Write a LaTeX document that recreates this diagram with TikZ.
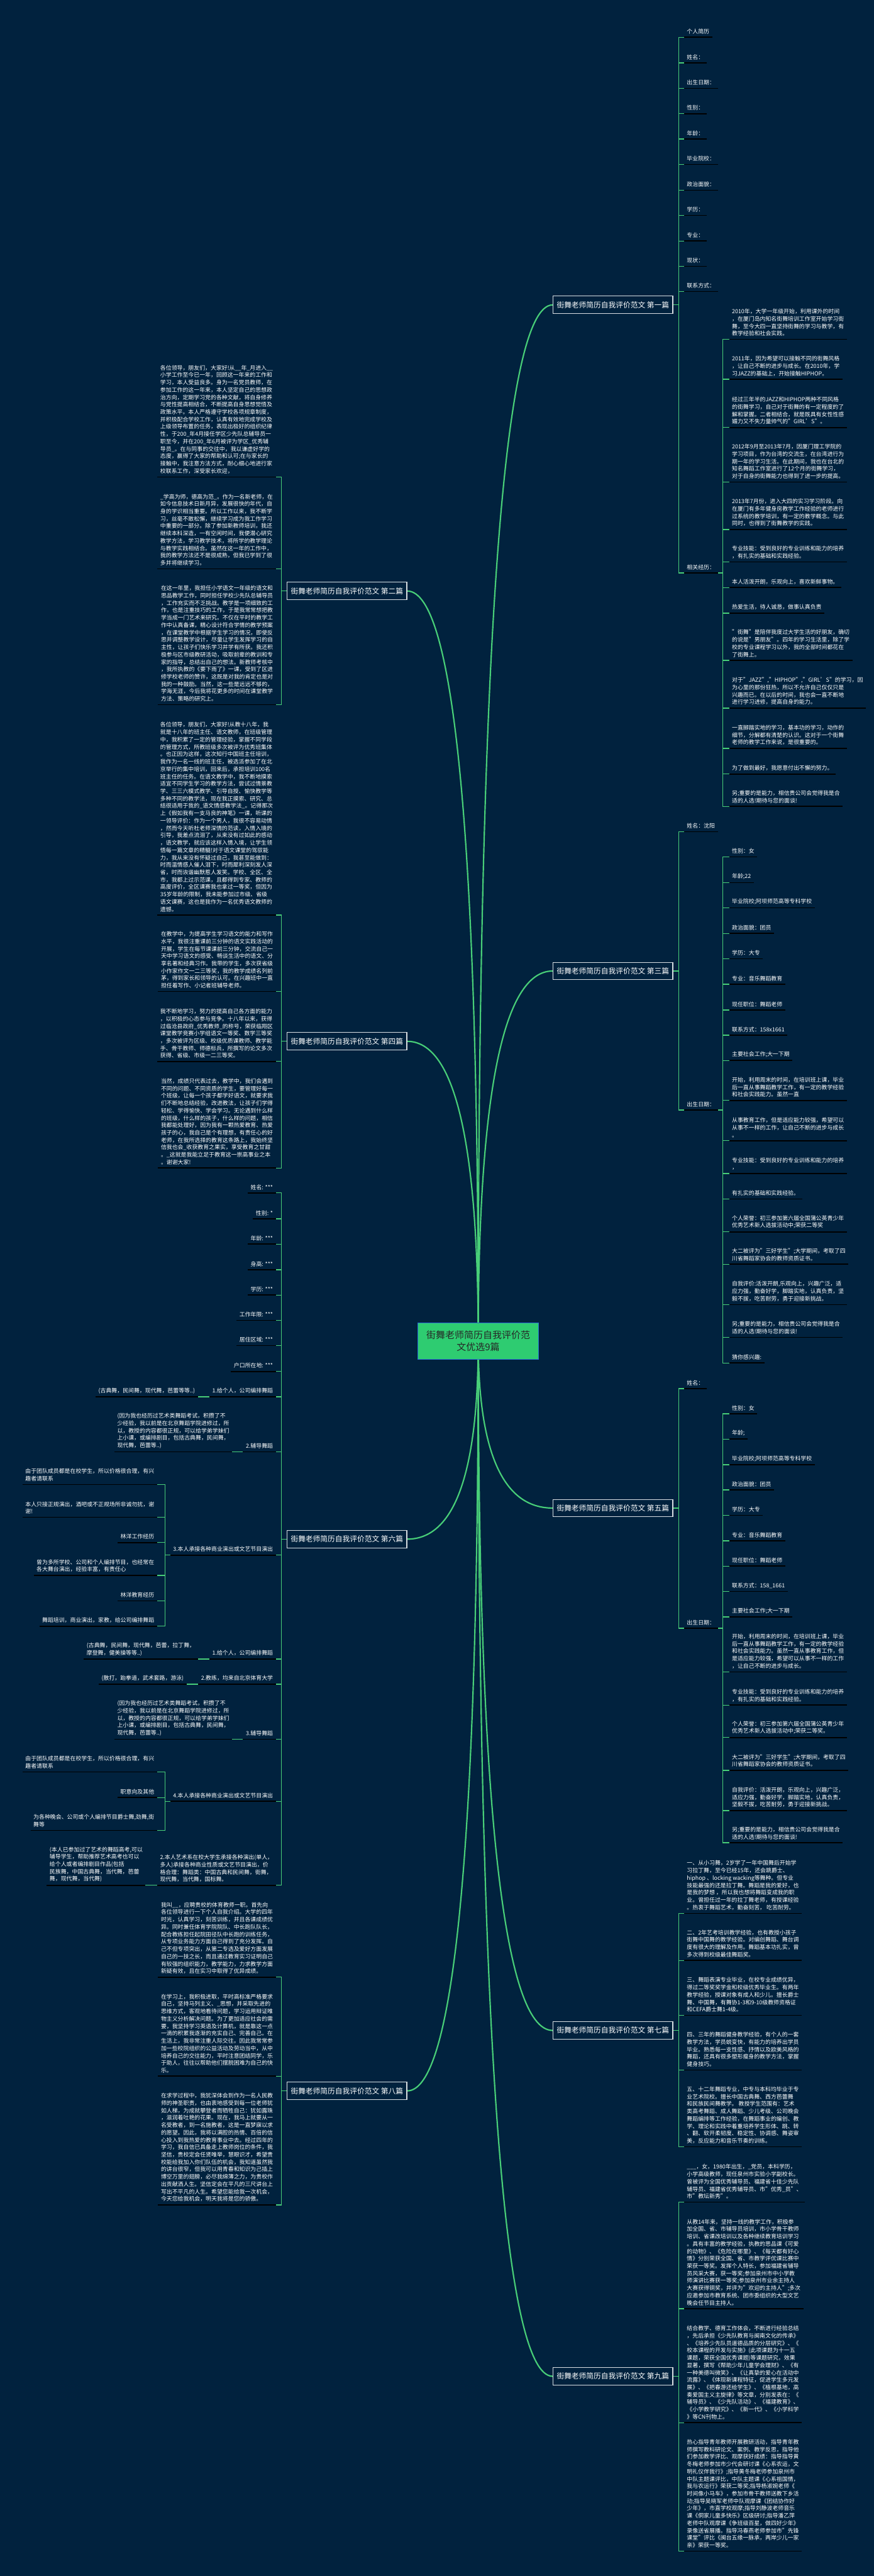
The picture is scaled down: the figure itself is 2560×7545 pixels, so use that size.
\documentclass[tikz,border=0pt]{standalone}
\usepackage{fontspec}
\setmainfont{Noto Sans CJK SC}
\usetikzlibrary{calc}

\definecolor{bgnavy}{RGB}{1,34,62}
\definecolor{linkgreen}{RGB}{72,206,120}
\definecolor{hubgreen}{RGB}{46,204,113}
\definecolor{hubline}{RGB}{40,110,210}

\pgfdeclarelayer{bg}
\pgfdeclarelayer{links}
\pgfsetlayers{bg,links,main}

\newcommand\itemsize{\fontsize{8.2pt}{10.8pt}\selectfont}
\newcommand\branchsize{\fontsize{10.8pt}{13pt}\selectfont}
\newcommand\hubsize{\fontsize{13.8pt}{18pt}\selectfont}

\tikzset{
  uline/.style={draw=black, line width=1.5pt},
  ritem/.style={anchor=south west, align=left, text=white, font=\itemsize,
    inner xsep=4pt, inner ysep=4.5pt,
    append after command={(\tikzlastnode.south west) edge[uline] (\tikzlastnode.south east)}},
  litem/.style={ritem, anchor=south east},
  branch/.style={draw=white!85!bgnavy, line width=1pt, fill=bgnavy, text=white,
    font=\branchsize, inner xsep=5.5pt, inner ysep=0pt, minimum height=25.5pt},
  hub/.style={draw=hubline, line width=1pt, fill=hubgreen, text=black!85,
    font=\hubsize, align=center, inner xsep=12.5pt, minimum height=54pt},
  link/.style={draw=linkgreen, line width=1.2pt},
  curve/.style={draw=linkgreen, line width=2pt}
}

\begin{document}
\begin{tikzpicture}[x=0.5pt, y=-0.5pt]
\useasboundingbox (0,0) rectangle (2560,7545);
\begin{pgfonlayer}{bg}
  \fill[bgnavy] (0,0) rectangle (2560,7545);
\end{pgfonlayer}

\node[hub] (hub) at (1401,3928) {街舞老师简历自我评价范\\文优选9篇};

% 第一篇
\node[branch, anchor=east] (p1) at (1972,893) {街舞老师简历自我评价范文 第一篇};
\node[ritem] (p1a) at (2004,109) {个人简历};
\node[ritem] (p1b) at (2004,184) {姓名：};
\node[ritem] (p1c) at (2004,259) {出生日期：};
\node[ritem] (p1d) at (2004,333) {性别：};
\node[ritem] (p1e) at (2004,407) {年龄：};
\node[ritem] (p1f) at (2004,482) {毕业院校：};
\node[ritem] (p1g) at (2004,557) {政治面貌：};
\node[ritem] (p1h) at (2004,631) {学历：};
\node[ritem] (p1i) at (2004,706) {专业：};
\node[ritem] (p1j) at (2004,780) {现状：};
\node[ritem] (p1k) at (2004,854) {联系方式：};
\node[ritem] (p1l) at (2004,1678) {相关经历：};
\node[ritem] (p1l1) at (2136,994) {2010年，大学一年级开始，利用课外的时间\\，在厦门岛内知名街舞培训工作室开始学习街\\舞，至今大四一直坚持街舞的学习与教学，有\\教学经验和社会实践。};
\node[ritem] (p1l2) at (2136,1111) {2011年，因为希望可以接触不同的街舞风格\\，让自己不断的进步与成长。在2010年，学\\习JAZZ的基础上，开始接触HIPHOP。};
\node[ritem] (p1l3) at (2136,1252) {经过三年半的JAZZ和HIPHOP两种不同风格\\的街舞学习，自己对于街舞的有一定程度的了\\解和掌握。二者相结合，就是既具有女性性感\\媚力又不失力量帅气的"GIRL'S"。};
\node[ritem] (p1l4) at (2136,1412) {2012年9月至2013年7月，因厦门理工学院的\\学习项目，作为台湾的交流生，在台湾进行为\\期一年的学习生活。在此期间，我也在台北的\\知名舞蹈工作室进行了12个月的街舞学习，\\对于自身的街舞能力也得到了进一步的提高。};
\node[ritem] (p1l5) at (2136,1551) {2013年7月份，进入大四的实习学习阶段。向\\在厦门有多年健身房教学工作经验的老师进行\\过系统的教学培训，有一定的教学概念。与此\\同时，也得到了街舞教学的实践。};
\node[ritem] (p1l6) at (2136,1646) {专业技能：受到良好的专业训练和能力的培养\\，有扎实的基础和实践经验。};
\node[ritem] (p1l7) at (2136,1721) {本人活泼开朗，乐观向上，喜欢新鲜事物。};
\node[ritem] (p1l8) at (2136,1796) {热爱生活，待人诚恳，做事认真负责};
\node[ritem] (p1l9) at (2136,1934) {"街舞"是陪伴我度过大学生活的好朋友，确切\\的说是"男朋友"。四年的学习生活里，除了学\\校的专业课程学习以外，我的全部时间都花在\\了街舞上。};
\node[ritem] (p1l10) at (2136,2074) {对于"JAZZ","HIPHOP","GIRL'S"的学习，因\\为心里的那份狂热，所以不允许自己仅仅只是\\兴趣而已。在以后的时间，我也会一直不断地\\进行学习进修，提高自身的能力。};
\node[ritem] (p1l11) at (2136,2192) {一直脚踏实地的学习，基本功的学习，动作的\\细节，分解都有清楚的认识。这对于一个街舞\\老师的教学工作来说，是很重要的。};
\node[ritem] (p1l12) at (2136,2267) {为了做到最好，我愿意付出不懈的努力。};
\node[ritem] (p1l13) at (2136,2362) {另;重要的是能力，相信贵公司会觉得我是合\\适的人选!期待与您的面谈!};

% 第二篇
\node[branch, anchor=west] (p2) at (840,1731) {街舞老师简历自我评价范文 第二篇};
\node[litem] (p2a) at (808,1397) {各位领导，朋友们，大家好!从\_\_年\_月进入\_\_\\小学工作至今已一年，回顾这一年来的工作和\\学习，本人受益良多。身为一名党员教师，在\\参加工作的这一年来，本人坚定自己的思想政\\治方向，定期学习党的各种文献，将自身修养\\与党性提高相结合，不断提高自身思想觉悟及\\政策水平。本人严格遵守学校各项规章制度，\\并积极配合学校工作，认真有效地完成学校及\\上级领导布置的任务，表现出极好的组织纪律\\性，于200\_年4月接任学区少先队总辅导员一\\职至今，并在200\_年6月被评为学区\_优秀辅\\导员\_。在与同事的交往中，我以谦虚好学的\\态度，赢得了大家的帮助和认可;在与家长的\\接触中，我注意方法方式，耐心细心地进行家\\校联系工作，深受家长欢迎，};
\node[litem] (p2b) at (808,1666) {\_学高为师，德高为范\_。作为一名新老师，在\\如今信息技术日新月异，发展很快的年代，自\\身的学识相当重要。所以工作以来，我不断学\\习，丝毫不敢松懈，继续学习成为我工作学习\\中重要的一部分。除了参加新教师培训，我还\\继续本科深造，一有空闲时间，我便潜心研究\\教学方法，学习教学技术，将所学的教学理论\\与教学实践相结合。虽然在这一年的工作中，\\我的教学方法还不是很成熟，但我已学到了很\\多并将继续学习。};
\node[litem] (p2c) at (808,2064) {在这一年里，我担任小学语文一年级的语文和\\思品教学工作，同时担任学校少先队总辅导员\\，工作充实而不乏挑战。教学是一项细致的工\\作，也是注重技巧的工作，于是我常常想把教\\学当成一门艺术来研究。不仅在平时的教学工\\作中认真备课，精心设计符合学情的教学预案\\，在课堂教学中根据学生学习的情况，即使反\\思并调整教学设计，尽量让学生发挥学习的自\\主性，让孩子们快乐学习并学有所获。我还积\\极参与区市级教研活动，吸取前辈的教训和专\\家的指导，总结出自己的想法。新教师考核中\\，我所执教的《要下雨了》一课，受到了区进\\修学校老师的赞许，这既是对我的肯定也是对\\我的一种鼓励。当然，这一些是远远不够的，\\学海无涯，今后我将花更多的时间在课堂教学\\方法、策略的研究上。};

% 第三篇
\node[branch, anchor=east] (p3) at (1972,2844) {街舞老师简历自我评价范文 第三篇};
\node[ritem] (p3a) at (2004,2436) {姓名：沈阳};
\node[ritem] (p3b) at (2004,3251) {出生日期：};
\node[ritem] (p3b1) at (2136,2510) {性别：女};
\node[ritem] (p3b2) at (2136,2585) {年龄;22};
\node[ritem] (p3b3) at (2136,2659) {毕业院校;阿坝师范高等专科学校};
\node[ritem] (p3b4) at (2136,2734) {政治面貌：团员};
\node[ritem] (p3b5) at (2136,2808) {学历：大专};
\node[ritem] (p3b6) at (2136,2883) {专业：音乐舞蹈教育};
\node[ritem] (p3b7) at (2136,2958) {现任职位：舞蹈老师};
\node[ritem] (p3b8) at (2136,3032) {联系方式：158x1661};
\node[ritem] (p3b9) at (2136,3106) {主要社会工作;大一下期};
\node[ritem] (p3b10) at (2136,3223) {开始，利用周末的时间，在培训班上课，毕业\\后一直从事舞蹈教学工作，有一定的教学经验\\和社会实践能力。虽然一直};
\node[ritem] (p3b11) at (2136,3341) {从事教育工作，但是适应能力较强，希望可以\\从事不一样的工作，让自己不断的进步与成长\\。};
\node[ritem] (p3b12) at (2136,3437) {专业技能：受到良好的专业训练和能力的培养\\，};
\node[ritem] (p3b13) at (2136,3512) {有扎实的基础和实践经验。};
\node[ritem] (p3b14) at (2136,3608) {个人荣誉：初三参加第六届全国蒲公英青少年\\优秀艺术新人选拔活动中;荣获二等奖};
\node[ritem] (p3b15) at (2136,3703) {大二被评为"三好学生";大学期间，考取了四\\川省舞蹈家协会的教师资质证书。};
\node[ritem] (p3b16) at (2136,3821) {自我评价:活泼开朗,乐观向上，兴趣广泛，适\\应力强，勤奋好学，脚踏实地，认真负责，坚\\毅不拔，吃苦耐劳，勇于迎接新挑战。};
\node[ritem] (p3b17) at (2136,3917) {另;重要的是能力，相信贵公司会觉得我是合\\适的人选!期待与您的面谈!};
\node[ritem] (p3b18) at (2136,3992) {猜你感兴趣:};

% 第四篇
\node[branch, anchor=west] (p4) at (840,3050) {街舞老师简历自我评价范文 第四篇};
\node[litem] (p4a) at (808,2680) {各位领导，朋友们，大家好!从教十八年，我\\就是十八年的班主任、语文教师，在班级管理\\中，我积累了一定的管理经验，掌握不同学段\\的管理方式，所教班级多次被评为优秀班集体\\。也正因为这样，这次知行中国班主任培训，\\我作为一名一线的班主任，被选派参加了在北\\京举行的集中培训，回来后，承担培训100名\\班主任的任务。在语文教学中，我不断地摸索\\适宜不同学生学习的教学方法，尝试过情景教\\学、三三六模式教学、引导自授、愉快教学等\\多种不同的教学法，现在我正摸索、研究、总\\结很适用于我的\_语文情感教学法\_。记得那次\\上《假如我有一支马良的神笔》一课，听课的\\一领导评价：作为一个男人，我很不容易动情\\，然而今天听杜老师深情的范读，入情入境的\\引导，我差点流泪了，从来没有过如此的感动\\，语文教学，就应该这样入情入境，让学生领\\悟每一篇文章的精髓!对于语文课堂的驾驭能\\力，我从来没有怀疑过自己，我甚至能做到：\\时而温情感人催人泪下，时而犀利深刻发人深\\省，时而诙谐幽默惹人发笑。学校、全区、全\\市，我都上过示范课，且都得到专家、教师的\\高度评价，全区课赛我也拿过一等奖，但因为\\35岁年龄的限制，我未能参加过市级、省级\\语文课赛，这也是我作为一名优秀语文教师的\\遗憾。};
\node[litem] (p4b) at (808,2904) {在教学中，为提高学生学习语文的能力和写作\\水平，我很注重课前三分钟的语文实践活动的\\开展，学生在每节课课前三分钟，交流自己一\\天中学习语文的感受、畅谈生活中的语文、分\\享名著和经典习作。我带的学生，多次获省级\\小作家作文一二三等奖，我的教学成绩名列前\\茅，得到家长和领导的认可。在兴趣班中一直\\担任着写作、小记者班辅导老师。};
\node[litem] (p4c) at (808,3109) {我不断地学习，努力的提高自己各方面的能力\\，以积极的心态参与竞争。十八年以来，获得\\过临沧县政府\_优秀教师\_的称号，荣获临翔区\\课堂教学竞赛小学组语文一等奖、数学三等奖\\，多次被评为区级、校级优质课教师、教学能\\手、骨干教师、师德标兵，所撰写的论文多次\\获得、省级、市级一二三等奖。};
\node[litem] (p4d) at (808,3421) {当然，成绩只代表过去，教学中，我们会遇到\\不同的问题、不同资质的学生，要管理好每一\\个班级，让每一个孩子都学好语文，就要求我\\们不断地总结经验，改进教法，让孩子们学得\\轻松、学得愉快、学会学习。无论遇到什么样\\的班级，什么样的孩子，什么样的问题，相信\\我都能处理好，因为我有一颗热爱教育、热爱\\孩子的心，我自己是个有理想，有责任心的好\\老师，在我所选择的教育这条路上，我始终坚\\信我也会\_收获教育之果实，享受教育之甘甜\\。\_这就是我能立足于教育这一崇高事业之本\\。谢谢大家!};

% 第五篇
\node[branch, anchor=east] (p5) at (1972,4417) {街舞老师简历自我评价范文 第五篇};
\node[ritem] (p5a) at (2004,4067) {姓名：};
\node[ritem] (p5b) at (2004,4769) {出生日期：};
\node[ritem] (p5b1) at (2136,4141) {性别：女};
\node[ritem] (p5b2) at (2136,4215) {年龄;};
\node[ritem] (p5b3) at (2136,4290) {毕业院校;阿坝师范高等专科学校};
\node[ritem] (p5b4) at (2136,4364) {政治面貌：团员};
\node[ritem] (p5b5) at (2136,4438) {学历：大专};
\node[ritem] (p5b6) at (2136,4513) {专业：音乐舞蹈教育};
\node[ritem] (p5b7) at (2136,4587) {现任职位：舞蹈老师};
\node[ritem] (p5b8) at (2136,4661) {联系方式：158\_1661};
\node[ritem] (p5b9) at (2136,4736) {主要社会工作;大一下期};
\node[ritem] (p5b10) at (2136,4897) {开始，利用周末的时间，在培训班上课，毕业\\后一直从事舞蹈教学工作，有一定的教学经验\\和社会实践能力。虽然一直从事教育工作，但\\是适应能力较强，希望可以从事不一样的工作\\，让自己不断的进步与成长。};
\node[ritem] (p5b11) at (2136,4994) {专业技能：受到良好的专业训练和能力的培养\\，有扎实的基础和实践经验。};
\node[ritem] (p5b12) at (2136,5089) {个人荣誉：初三参加第六届全国蒲公英青少年\\优秀艺术新人选拔活动中;荣获二等奖。};
\node[ritem] (p5b13) at (2136,5185) {大二被评为"三好学生";大学期间，考取了四\\川省舞蹈家协会的教师资质证书。};
\node[ritem] (p5b14) at (2136,5303) {自我评价：活泼开朗，乐观向上，兴趣广泛，\\适应力强，勤奋好学，脚踏实地，认真负责，\\坚毅不拔，吃苦耐劳，勇于迎接新挑战。};
\node[ritem] (p5b15) at (2136,5397) {另;重要的是能力，相信贵公司会觉得我是合\\适的人选!期待与您的面谈!};

% 第六篇
\node[branch, anchor=west] (p6) at (840,4508) {街舞老师简历自我评价范文 第六篇};
\node[litem] (p6a) at (808,3494) {姓名: ***};
\node[litem] (p6b) at (808,3570) {性别: *};
\node[litem] (p6c) at (808,3644) {年龄: ***};
\node[litem] (p6d) at (808,3719) {身高: ***};
\node[litem] (p6e) at (808,3793) {学历: ***};
\node[litem] (p6f) at (808,3867) {工作年限: ***};
\node[litem] (p6g) at (808,3941) {居住区域: ***};
\node[litem] (p6h) at (808,4017) {户口所在地: ***};
\node[litem] (p6i) at (808,4091) {1.给个人，公司编排舞蹈};
\node[litem] (p6i1) at ([xshift=-17pt]p6i.south west) {(古典舞，民间舞，现代舞，芭蕾等等..)};
\node[litem] (p6j) at (808,4252) {2.辅导舞蹈};
\node[litem] (p6j1) at ([xshift=-16pt]p6j.south west) {(因为我也经历过艺术类舞蹈考试，积攒了不\\少经验，我以前是在北京舞蹈学院进修过，所\\以，教授的内容都很正规，可以给学弟学妹们\\上小课，或编排剧目，包括古典舞，民间舞，\\现代舞，芭蕾等..)};
\node[litem] (p6k) at (808,4555) {3.本人承接各种商业演出或文艺节目演出};
\node[litem] (p6k1) at (460,4348) {由于团队成员都是在校学生，所以价格很合理，有兴\\趣者请联系};
\node[litem] (p6k2) at (460,4444) {本人只接正规演出，酒吧或不正规场所非诚勿扰，谢\\谢!};
\node[litem] (p6k3) at (460,4518) {林洋工作经历};
\node[litem] (p6k4) at (460,4614) {曾为多所学校、公司和个人编排节目，也经常在\\各大舞台演出，经验丰富，有责任心};
\node[litem] (p6k5) at (460,4689) {林洋教育经历};
\node[litem] (p6k6) at (460,4763) {舞蹈培训，商业演出，家教，给公司编排舞蹈};
\node[litem] (p6l) at (808,4859) {1.给个人，公司编排舞蹈};
\node[litem] (p6l1) at ([xshift=-17pt]p6l.south west) {(古典舞，民间舞，现代舞，芭蕾，拉丁舞，\\摩登舞，健美操等等..)};
\node[litem] (p6m) at (808,4933) {2.教练，均来自北京体育大学};
\node[litem] (p6m1) at ([xshift=-17pt]p6m.south west) {(散打，跆拳道，武术套路，游泳)};
\node[litem] (p6n) at (808,5094) {3.辅导舞蹈};
\node[litem] (p6n1) at ([xshift=-16pt]p6n.south west) {(因为我也经历过艺术类舞蹈考试，积攒了不\\少经验，我以前是在北京舞蹈学院进修过，所\\以，教授的内容都很正规，可以给学弟学妹们\\上小课，或编排剧目，包括古典舞，民间舞，\\现代舞，芭蕾等..)};
\node[litem] (p6o) at (808,5276) {4.本人承接各种商业演出或文艺节目演出};
\node[litem] (p6o1) at (460,5190) {由于团队成员都是在校学生，所以价格很合理，有兴\\趣者请联系};
\node[litem] (p6o2) at (460,5265) {职意向及其他};
\node[litem] (p6o3) at (460,5361) {为各种晚会、公司或个人编排节目爵士舞,劲舞,街\\舞等};
\node[litem] (p6p) at (808,5522) {2.本人艺术系在校大学生承接各种演出(单人，\\多人)承接各种商业性质或文艺节目演出，价\\格合理：舞蹈类：中国古典和民间舞，街舞，\\现代舞，当代舞，国标舞。};
\node[litem] (p6p1) at ([xshift=-17pt]p6p.south west) {(本人已参加过了艺术的舞蹈高考,可以\\辅导学生，帮助推荐艺术高考也可以\\给个人或者编排剧目作品(包括\\民族舞，中国古典舞，当代舞，芭蕾\\舞，现代舞，当代舞)};

% 第七篇
\node[branch, anchor=east] (p7) at (1972,5947) {街舞老师简历自我评价范文 第七篇};
\node[ritem] (p7a) at (2004,5604) {一、从小习舞，2岁学了一年中国舞后开始学\\习拉丁舞，至今已经15年，还会跳爵士、\\hiphop 、locking wacking等舞种。但专业\\技能最强的还是拉丁舞。舞蹈是我的爱好，也\\是我的梦想 ，所以我也想将舞蹈变成我的职\\业。曾担任过一年的拉丁舞老师，有授课经验\\。热衷于舞蹈艺术，勤奋刻苦， 吃苦耐劳。};
\node[ritem] (p7b) at (2004,5742) {二、2年艺考培训教学经验，也有教授小孩子\\街舞中国舞的教学经验。对编创舞蹈、舞台调\\度有很大的理解及作用。舞蹈基本功扎实，曾\\多次得到校级最佳舞蹈奖。};
\node[ritem] (p7c) at (2004,5903) {三、舞蹈表演专业毕业，在校专业成绩优异，\\得过二等奖奖学金和校级优秀毕业生。有两年\\教学经验，授课对象有成人和少儿。擅长爵士\\舞、中国舞，有舞协1-3和9-10级教师资格证\\和CEFA爵士舞1-4级。};
\node[ritem] (p7d) at (2004,6063) {四、三年的舞蹈健身教学经验，有个人的一套\\教学方法，学员蜕变快，有能力的培养出学员\\毕业。熟悉每一支性感、抒情以及欧美风格的\\舞蹈，还具有很多塑形瘦身的教学方法，掌握\\健身技巧。};
\node[ritem] (p7e) at (2004,6288) {五、十二年舞蹈专业，中专与本科均毕业于专\\业艺术院校。擅长中国古典舞、西方芭蕾舞\\和民族民间舞教学。 教授学生范围有：艺术\\类高考舞蹈、成人舞蹈、少儿考级、公司晚会\\舞蹈编排等工作经验，在舞蹈事业的编创、教\\学、理论和实践中着重培养学生形体、跳、转\\、翻、软开柔韧度、稳定性、协调感、舞姿审\\美，反应能力和音乐节奏的训练。};

% 第八篇
\node[branch, anchor=west] (p8) at (840,6124) {街舞老师简历自我评价范文 第八篇};
\node[litem] (p8a) at (808,5791) {我叫\_\_，应聘贵校的体育教师一职。首先向\\各位领导进行一下个人自我介绍。大学的四年\\时光，认真学习，刻苦训练，并且各课成绩优\\异。同时兼任体育学院院队、中长跑队队长，\\配合教练担任起院田径队中长跑的训练任务，\\从专项业务能力方面自己得到了充分发挥。自\\己不但专项突出，从第二专选及爱好方面发展\\自己的一技之长，而且通过教育实习证明自己\\有较强的组织能力，教学能力，力求教学方面\\新疑有效，且在实习中取得了优异成绩。};
\node[litem] (p8b) at (808,6081) {在学习上，我积极进取，平时高标准严格要求\\自己，坚持马列主义、\_思想，并采取先进的\\思维方式，客观地看待问题，学习运用辩证唯\\物主义分析解决问题。为了更加适应社会的需\\要，我坚持学习英语及计算机，就是靠这一点\\一滴的积累我逐渐的充实自己、完善自己。在\\生活上，我非常注重人际交往。因此我常常参\\加一些校院组织的公益活动及劳动当中，从中\\培养自己的交往能力，平时注意团结同学，乐\\于助人，往往以帮助他们摆脱困难为自己的快\\乐。};
\node[litem] (p8c) at (808,6458) {在求学过程中，我犹深体会到作为一名人民教\\师的神圣职责，也由衷地感受到每一位老师犹\\如人梯，为成就攀登者而牺牲自己：犹如露珠\\，滋润着吐艳的花果。现在，我马上就要从一\\名受教者，到一名施教者，这是一直梦寐以求\\的愿望。因此，我将以满腔的热情、百倍的信\\心投入到我热爱的教育事业中去。经过四年的\\学习，我自信已具备走上教师岗位的条件，我\\坚信，贵校定会任贤唯举，慧眼识才，希望贵\\校能给我加入你们队伍的机会，我知道虽然我\\的讲台很窄，但我可以用青春和知识为己插上\\博空万里的翅膀，必尽我绵薄之力，为贵校作\\出贡献洒人生。坚信定会在平凡的三尺讲台上\\写出不平凡的人生。希望您能给我一次机会，\\今天您给我机会，明天我将是您的骄傲。};

% 第九篇
\node[branch, anchor=east] (p9) at (1972,6960) {街舞老师简历自我评价范文 第九篇};
\node[ritem] (p9a) at (2004,6450) {\_\_\_，女，1980年出生，\_党员，本科学历，\\小学高级教师，现任泉州市实验小学副校长。\\曾被评为全国优秀辅导员、福建省十佳少先队\\辅导员、福建省优秀辅导员、市"优秀\_员"、\\市"教坛新秀"。};
\node[ritem] (p9b) at (2004,6762) {从教14年来，坚持一线的教学工作，积极参\\加全国、省、市辅导员培训，市小学骨干教师\\培训、省课改培训以及各种继续教育培训学习\\。具有丰富的教学经验，执教的思品课《可爱\\的动物》、《危险在哪里》、《每天都有好心\\情》分别荣获全国、省、市教学评优课比赛中\\荣获一等奖。发挥个人特长，参加福建省辅导\\员风采大赛，获一等奖;参加泉州市中小学教\\师演讲比赛获一等奖;参加泉州市业余主持人\\大赛获得铜奖，并评为"欢迎的主持人";多次\\应邀参加市教育系统、团市委组织的大型文艺\\晚会任节目主持人。};
\node[ritem] (p9c) at (2004,7096) {结合教学、德育工作体会，不断进行经验总结\\，先后承担《少先队教育与闽南文化的传承》\\、《培养少先队员道德品质的分层研究》、《\\校本课程的开发与实施》(此项课题为十一五\\课题，荣获全国优秀课题)等课题研究，效果\\显著，撰写《帮助少年儿童学会理财》、《有\\一种美德叫微笑》、《让真挚的爱心在活动中\\流露》、《体现新课程特征，促进学生多元发\\展》、《把春游还给学生》、《植根基地，高\\奏爱国主义主旋律》等文章，分别发表在：《\\辅导员》、《少先队活动》、《福建教育》、\\《小学教学研究》、《新一代》、《小学科学\\》等CN刊物上。};
\node[ritem] (p9d) at (2004,7472) {热心指导青年教师开展教研活动，指导青年教\\师撰写教科研论文、案例、教学反思，指导他\\们参加教学评比、观摩获好成绩：指导指导黄\\冬梅老师参加市少代会研讨课《心系农运，文\\明礼仪伴我行》;指导黄冬梅老师参加泉州市\\中队主题课评比，中队主题课《心系祖国情，\\我与农运行》荣获二等奖;指导杨淑婉老师《\\时间像小马车》，参加市骨干教师送教下乡活\\动;指导吴晓军老师中队观摩课《团结协作好\\少年》，市直学校观摩;指导刘静波老师音乐\\课《侗家儿童多快乐》区级研讨;指导潘乙萍\\老师中队观摩课《争班级百星，做四好少年》\\录像送省展播。指导冯春燕老师参加市"先锋\\课堂"评比《闽台五缘一脉承，两岸少儿一家\\亲》荣获一等奖。};

\begin{pgfonlayer}{links}
  \foreach \b/\s in {p1/west,p3/west,p5/west,p7/west,p9/west,p2/east,p4/east,p6/east,p8/east}
    \draw[curve] (hub.center) .. controls ($(hub.center)!2/3!(hub.center |- \b.\s)$)
      and ($(\b.\s)!2/3!(hub.center |- \b.\s)$) .. (\b.\s);
  % right side
  \foreach \n in {p1a,p1b,p1c,p1d,p1e,p1f,p1g,p1h,p1i,p1j,p1k,p1l}
    \draw[link] (p1.east) -- ++(8pt,0) |- (\n.south west);
  \foreach \i in {1,...,13}
    \draw[link] (p1l.south east) -- ++(7.5pt,0) |- (p1l\i.south west);
  \foreach \n in {p3a,p3b}
    \draw[link] (p3.east) -- ++(8pt,0) |- (\n.south west);
  \foreach \i in {1,...,18}
    \draw[link] (p3b.south east) -- ++(7.5pt,0) |- (p3b\i.south west);
  \foreach \n in {p5a,p5b}
    \draw[link] (p5.east) -- ++(8pt,0) |- (\n.south west);
  \foreach \i in {1,...,15}
    \draw[link] (p5b.south east) -- ++(7.5pt,0) |- (p5b\i.south west);
  \foreach \n in {p7a,p7b,p7c,p7d,p7e}
    \draw[link] (p7.east) -- ++(8pt,0) |- (\n.south west);
  \foreach \n in {p9a,p9b,p9c,p9d}
    \draw[link] (p9.east) -- ++(8pt,0) |- (\n.south west);
  % left side
  \foreach \n in {p2a,p2b,p2c}
    \draw[link] (p2.west) -- ++(-8pt,0) |- (\n.south east);
  \foreach \n in {p4a,p4b,p4c,p4d}
    \draw[link] (p4.west) -- ++(-8pt,0) |- (\n.south east);
  \foreach \n in {p6a,p6b,p6c,p6d,p6e,p6f,p6g,p6h,p6i,p6j,p6k,p6l,p6m,p6n,p6o,p6p}
    \draw[link] (p6.west) -- ++(-8pt,0) |- (\n.south east);
  \foreach \n in {p6i,p6j,p6l,p6m,p6n,p6p}
    \draw[link] (\n.south west) -- (\n1.south east);
  \foreach \i in {1,...,6}
    \draw[link] (p6k.south west) -- ++(-7.5pt,0) |- (p6k\i.south east);
  \foreach \i in {1,2,3}
    \draw[link] (p6o.south west) -- ++(-7.5pt,0) |- (p6o\i.south east);
  \foreach \n in {p8a,p8b,p8c}
    \draw[link] (p8.west) -- ++(-8pt,0) |- (\n.south east);
\end{pgfonlayer}
\end{tikzpicture}
\end{document}
